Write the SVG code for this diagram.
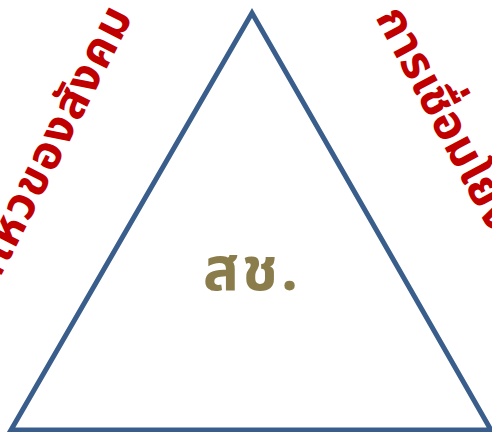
<svg xmlns="http://www.w3.org/2000/svg" width="492" height="432" viewBox="0 0 492 432">
<style>
.side{font-family:"Noto Sans Thai","Noto Sans","DejaVu Sans",sans-serif;font-weight:bold;font-size:47px;fill:#C00000}
.center{font-family:"Noto Sans Thai","Noto Sans","DejaVu Sans",sans-serif;font-weight:bold;font-size:60px;letter-spacing:3px;fill:#8B7D4B}
</style>
<rect width="492" height="432" fill="#FFFFFF"/>
<g id="connectors">
<polygon points="252,13 11,430 491,430" fill="none" stroke="#3A5E8C" stroke-width="5" stroke-linejoin="miter"/>
</g>
<g id="node-left">
<text class="side" transform="translate(134,15) rotate(-63)" text-anchor="end" letter-spacing="1.3">การเคลื่อนไหวของสังคม</text>
</g>
<g id="node-right">
<text class="side" transform="translate(375,17) rotate(62)">การเชื่อมโยง</text>
</g>
<g id="node-center">
<text class="center" x="252" y="290" text-anchor="middle">สช.</text>
</g>
</svg>
